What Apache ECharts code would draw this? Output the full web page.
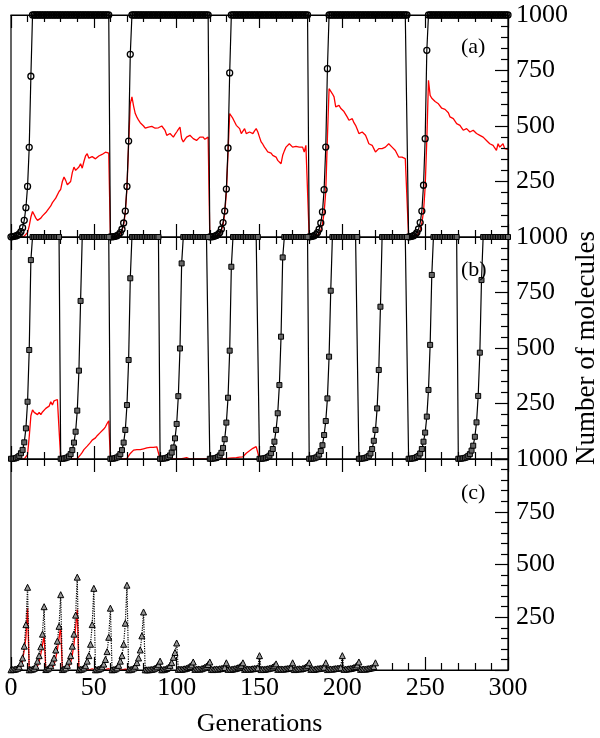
<!DOCTYPE html>
<html>
<head>
<meta charset="utf-8">
<script src="https://cdn.jsdelivr.net/npm/echarts@6/dist/echarts.min.js"></script>
<style>html,body{margin:0;padding:0;background:#fff}#chart{width:600px;height:738px}</style>
</head>
<body>
<div id="chart"></div>
<script>
const rep = (v, n) => Array(n).fill(v);

// x axis tick labels
const xTicks = [0, 50, 100, 150, 200, 250, 300];
const yTicks = [250, 500, 750, 1000];
const panelLabels = ['(a)', '(b)', '(c)'];

// Panel (a): black (circles), one value per generation 0..300
const aBlack = [].concat(
  [1,2,3,5,8,14,24,42,75,132,228,404,724], rep(1000,47),
  [1,1,2,3,6,11,20,35,63,117,228,432,823], rep(1000,47),
  [1,1,2,4,7,12,20,36,65,117,216,401,739], rep(1000,47),
  [1,2,3,6,11,20,35,63,113,213,405,758], rep(1000,48),
  [1,2,3,6,11,20,36,65,117,233,443,841], rep(1000,49)
);
// Panel (a): red line
const aRed = [].concat(
  [0,0,0,0,0,0,1,2,4,5,20,50,90,115,100,85,75,72,85,95,100,110,120,130,140,155,165,175,180,205,
   215,250,270,255,235,240,250,290,315,300,305,315,330,310,340,365,375,355,360,362,358,352,358,365,368,372,375,382,385,378],
  [0,0,1,2,4,8,15,30,55,110,220,420,600,
   631,590,556,540,526,515,511,500,490,488,495,503,498,495,490,488,492,495,500,503,480,458,462,466,458,450,
   462,473,485,495,443,428,440,450,455,458,450,443,440,435,442,450,448,450,440,435,450],
  [0,0,1,2,4,8,15,30,55,105,200,380,556,
   545,533,518,503,495,488,466,473,488,466,470,473,470,466,478,488,473,450,428,418,
   405,395,383,390,378,368,364,360,345,353,330,368,388,405,412,420,412,405,406,408,406,405,405,405,383,413,417],
  [0,0,1,2,4,8,15,30,58,110,205,450,
   668,661,645,631,586,590,593,580,571,565,556,540,526,530,533,515,503,485,466,470,
   473,465,458,440,420,416,413,398,383,390,398,398,398,402,405,412,420,412,405,398,390,375,360,360,360,356,353,345],
  [0,0,1,2,4,8,15,32,62,115,225,440,
   706,638,625,616,610,608,600,593,580,571,575,578,560,541,537,533,522,511,507,503,
   492,481,485,488,480,473,477,481,473,466,462,458,454,450,442,435,428,420,416,413,401,390,420,405,412,420,398,390,395]
);

// Panel (b): black (squares)
const bBlack = [].concat(
  [1,1,2,4,8,14,26,41,75,138,258,491,896], rep(1000,17),
  [1,1,2,4,7,12,22,40,74,123,218,398,712], rep(1000,17),
  [1,1,2,4,7,12,22,40,74,131,243,446,814], rep(1000,17),
  [1,1,2,3,5,9,16,29,52,93,158,283,498,881], rep(1000,16),
  [1,1,2,3,5,9,16,28,50,89,164,276,488,866], rep(1000,16),
  [1,1,2,3,5,9,15,26,45,78,131,206,333,551,908], rep(1000,15),
  [1,1,2,3,6,11,20,36,62,108,171,273,461,758], rep(1000,16),
  [1,1,2,3,5,8,14,25,45,82,131,228,401,686], rep(1000,16),
  [1,1,2,3,5,9,14,25,45,78,119,191,311,514,829], rep(1000,15),
  [1,1,2,3,5,8,14,22,38,60,100,165,284,479,806], rep(1000,16)
);
// Panel (b): red line (generations 0..150)
const bRed = [].concat(
  [0,0,0,0,0,0,0,0,1,5,20,100,195,221,210,205,200,210,200,212,220,228,232,238,258,243,262,265,268,272],
  rep(0,10), [2,10,20,30,42,50,58,65,75,85,90,95,105,112,120,128,135,145,160,172],
  rep(0,10), [3,12,25,33,40,44,42,38,42,48,46,44,50,56,52,48,52,56,55,60],
  rep(0,14), [3,8,6,3], rep(0,12),
  rep(0,10), [2,3,4,5,5,5,6,7,8,9,10,18,26,32,37,42,48,52,56,63],
  [0]
);

// Panel (c): black dotted (triangles), generations 0..220
const cBlack = [].concat(
  [1,2,3,5,8,15,32,57,113,215,392],
  [1,2,4,8,18,42,68,110,170,300],
  [2,5,10,20,37,57,95,137,207,357],
  [2,5,10,22,42,68,113,170,260,440],
  [1,3,5,10,20,42,68,122,215,387],
  [1,2,4,8,15,28,50,87,155,293],
  [1,2,5,10,22,42,68,122,222,402],
  [1,2,4,9,18,35,57,95,162,275],
  [1,1,1,2,3,5,9,15,25,42],
  [1,2,4,7,12,22,35,60,83,128],
  [3,4,3,5,6,8,12,17,24,38],
  [3,4,5,4,6,9,13,18,26,38],
  [3,2,4,5,4,6,7,9,12,34],
  [3,4,3,5,6,8,11,15,22,34],
  [3,4,5,4,5,6,7,8,10,68],
  [2,4,3,5,6,8,10,14,20,29],
  [3,4,5,4,5,6,7,9,11,34],
  [2,4,5,6,5,7,10,14,22,34],
  [3,4,3,5,6,7,8,10,13,34],
  [2,4,5,4,6,7,8,9,11,68],
  [3,4,5,6,7,9,12,16,24,38],
  [3,4,5,4,6,7,9,11,16,34]
);
// Panel (c): red line, generations 0..71
const cRed = [].concat(
  [0,0,0,0,1,4,15,45,95,155,293],
  [0,0,1,3,7,18,40,75,120,162],
  [0,0,1,4,10,25,55,95,150,207],
  [0,0,2,5,15,35,70,120,200,287],
  [0,0,0,0,0,0,0,3,6,10],
  [0,0,0,0,0,0,2,4,6,8],
  [0,0,0,0,0,0,0,2,4,5],
  [0]
);

const FONT = 'Liberation Serif';
const toXY = arr => arr.map((v, i) => [i, v]);
const grids = [], xAxes = [], yAxes = [], series = [];
const tops = [15, 237, 459];
function tickBase() {
  return {
    axisLine: {show: true, onZero: false, lineStyle: {color: '#000', width: 1.2}},
    axisTick: {show: true, inside: true, length: 13, lineStyle: {color: '#000', width: 1.2}},
    minorTick: {show: true, splitNumber: 5, length: 7, lineStyle: {color: '#000', width: 1.2}},
    splitLine: {show: false}, minorSplitLine: {show: false}
  };
}
for (let i = 0; i < 3; i++) {
  grids.push({left: 11, right: 92, top: tops[i], height: 222,
    show: true, borderColor: '#000', borderWidth: 1.2, backgroundColor: 'transparent'});
  xAxes.push(Object.assign({
    type: 'value', gridIndex: i, position: 'bottom', min: xTicks[0], max: xTicks[xTicks.length - 1], interval: 50,
    axisLabel: {show: i === 2, margin: 5, fontFamily: FONT, fontSize: 26, color: '#000'},
    name: i === 2 ? 'Generations' : '', nameLocation: 'middle', nameGap: 41,
    nameTextStyle: {fontFamily: FONT, fontSize: 26, color: '#000'}
  }, tickBase()));
  xAxes.push(Object.assign({
    type: 'value', gridIndex: i, position: 'top', min: 0, max: 300, interval: 50,
    axisLabel: {show: false}
  }, tickBase()));
  yAxes.push(Object.assign({
    type: 'value', gridIndex: i, position: 'right', min: 0, max: 1000, interval: 250,
    axisLabel: {show: true, margin: 8, fontFamily: FONT, fontSize: 26, color: '#000',
      formatter: v => (yTicks.indexOf(v) >= 0 ? String(v) : '')}
  }, tickBase()));
}

function lineSeries(idx, data, opts) {
  return Object.assign({
    type: 'line', xAxisIndex: idx * 2, yAxisIndex: idx, data: toXY(data),
    clip: false, showAllSymbol: true, animation: false, silent: true
  }, opts);
}
// red lines (beneath axis lines)
series.push(lineSeries(0, aRed, {symbol: 'none', z: -1, lineStyle: {color: '#ff0000', width: 1.3}}));
series.push(lineSeries(1, bRed, {symbol: 'none', z: -1, lineStyle: {color: '#ff0000', width: 1.3}}));
series.push(lineSeries(2, cRed, {symbol: 'none', z: -1, lineStyle: {color: '#ff0000', width: 1.3}}));
// black series
series.push(lineSeries(0, aBlack, {symbol: 'circle', symbolSize: 6, z: 3,
  itemStyle: {color: 'rgba(255,255,255,0)', borderColor: '#000', borderWidth: 1.3},
  lineStyle: {color: '#000', width: 1.2}}));
series.push(lineSeries(1, bBlack, {symbol: 'rect', symbolSize: 5, z: 3,
  itemStyle: {color: '#666', borderColor: '#000', borderWidth: 1},
  lineStyle: {color: '#000', width: 1.2}}));
series.push(lineSeries(2, cBlack, {symbol: 'triangle', symbolSize: 6, z: 3,
  itemStyle: {color: '#999', borderColor: '#000', borderWidth: 1},
  lineStyle: {color: '#000', width: 1.2, type: 'dotted'}}));

const labelYs = [47.5, 270.5, 493];
const graphic = panelLabels.map((t, i) => ({
  type: 'text', x: 461, y: labelYs[i], z: 10,
  style: {text: t, font: '22px "Liberation Serif"', fill: '#000',
    align: 'left', verticalAlign: 'middle', textAlign: 'left', textVerticalAlign: 'middle'}
}));
graphic.push({
  type: 'text', x: 587, y: 348, rotation: Math.PI / 2, z: 10,
  style: {text: 'Number of molecules', font: '27px "Liberation Serif"', fill: '#000',
    align: 'center', verticalAlign: 'middle', textAlign: 'center', textVerticalAlign: 'middle'}
});

const chart = echarts.init(document.getElementById('chart'), null, {renderer: 'canvas'});
chart.setOption({
  animation: false,
  backgroundColor: '#fff',
  grid: grids, xAxis: xAxes, yAxis: yAxes, series: series, graphic: graphic
});
</script>
</body>
</html>
